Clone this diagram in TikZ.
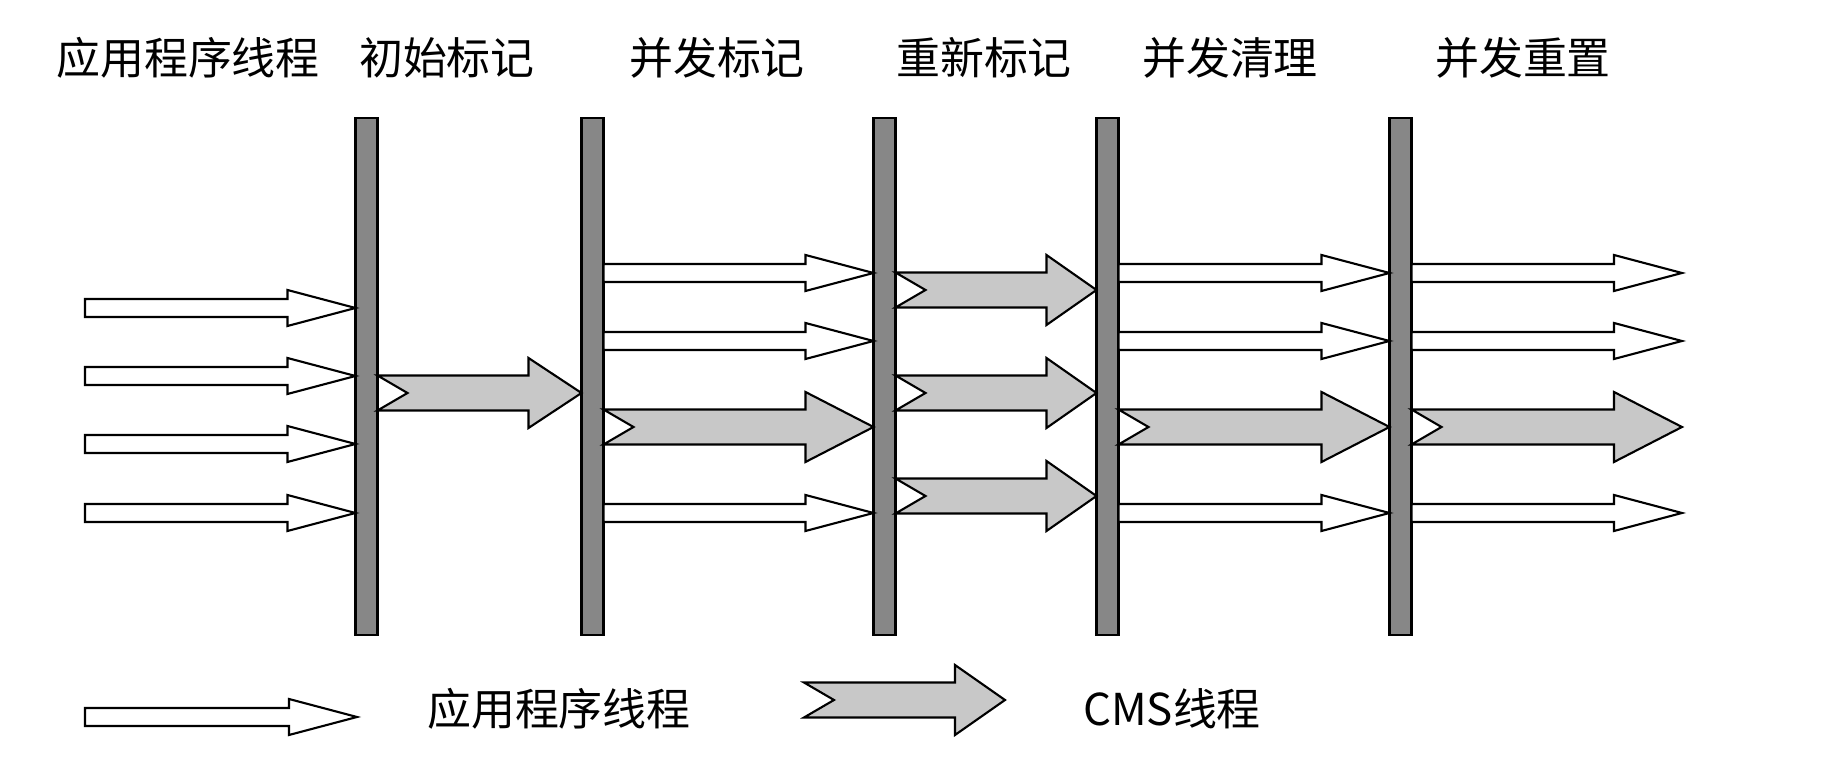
\documentclass[tikz,border=0pt]{standalone}
\usepackage{fontspec}
\setmainfont{Noto Sans CJK SC}
\usetikzlibrary{positioning, calc}

\definecolor{bargray}{RGB}{135,135,135}
\definecolor{cmsgray}{RGB}{200,200,200}

% white application thread arrow: #1 tail, #2 tip
\newcommand{\appthread}[2]{%
  \path (#1) coordinate (s) (#2) coordinate (t);
  \draw[appline] ($(s)+(0,0.09)$) -- ($(t)+(-0.68,0.09)$) -- ($(t)+(-0.68,0.18)$) -- (t)
    -- ($(t)+(-0.68,-0.18)$) -- ($(t)+(-0.68,-0.09)$) -- ($(s)+(0,-0.09)$) -- cycle;
}
% grey CMS thread arrow with notched tail: [#1 head length] #2 tail, #3 tip
\newcommand{\cmsthread}[3][0.68]{%
  \path (#2) coordinate (s) (#3) coordinate (t);
  \draw[cmsline] ($(s)+(0,0.175)$) -- ($(t)+(-#1,0.175)$) -- ($(t)+(-#1,0.35)$) -- (t)
    -- ($(t)+(-#1,-0.35)$) -- ($(t)+(-#1,-0.175)$) -- ($(s)+(0,-0.175)$) -- ($(s)+(0.3,0)$) -- cycle;
}

\begin{document}
\begin{tikzpicture}[
        bar/.style={rectangle, draw=black, fill=bargray, line width=0.6pt, minimum width=0.22cm, minimum height=5.17cm, inner sep=0pt, outer sep=0pt},
        appline/.style={draw=black, fill=white, line width=0.6pt, line join=miter},
        cmsline/.style={draw=black, fill=cmsgray, line width=0.6pt, line join=miter},
        phase/.style={font=\fontsize{12.5}{14}\selectfont, inner sep=0pt}
    ]
        \useasboundingbox (0,0) rectangle (18.46,-7.80);

        % Phase labels
        \node[phase] (P0) at (1.88,-0.58) {应用程序线程};
        \node[phase] (P1) at (4.47,-0.58) {初始标记};
        \node[phase] (P2) at (7.17,-0.58) {并发标记};
        \node[phase] (P3) at (9.84,-0.58) {重新标记};
        \node[phase] (P4) at (12.30,-0.58) {并发清理};
        \node[phase] (P5) at (15.23,-0.58) {并发重置};

        % Phase bars
        \node[bar] (B1) at (3.665,-3.765) {};
        \node[bar] (B2) at (5.925,-3.765) {};
        \node[bar] (B3) at (8.845,-3.765) {};
        \node[bar] (B4) at (11.075,-3.765) {};
        \node[bar] (B5) at (14.005,-3.765) {};

        % Application threads before the initial mark
        \foreach \y in {-3.08,-3.76,-4.44,-5.13}
            \appthread{0.85,\y}{B1.west |- 0,\y};

        % Initial mark
        \cmsthread[0.53]{B1.east |- 0,-3.93}{B2.west |- 0,-3.93}

        % Concurrent mark
        \foreach \y in {-2.73,-3.41,-5.13}
            \appthread{B2.east |- 0,\y}{B3.west |- 0,\y};
        \cmsthread{B2.east |- 0,-4.27}{B3.west |- 0,-4.27}

        % Remark
        \foreach \y in {-2.90,-3.93,-4.96}
            \cmsthread[0.50]{B3.east |- 0,\y}{B4.west |- 0,\y};

        % Concurrent sweep
        \foreach \y in {-2.73,-3.41,-5.13}
            \appthread{B4.east |- 0,\y}{B5.west |- 0,\y};
        \cmsthread{B4.east |- 0,-4.27}{B5.west |- 0,-4.27}

        % Concurrent reset
        \foreach \y in {-2.73,-3.41,-5.13}
            \appthread{B5.east |- 0,\y}{16.82,\y};
        \cmsthread{B5.east |- 0,-4.27}{16.82,-4.27}

        % Legend
        \coordinate (LA1) at (0.85,-7.17);
        \coordinate (LA2) at (3.57,-7.17);
        \appthread{LA1}{LA2}
        \node[phase] (LT1) at (5.59,-7.09) {应用程序线程};
        \coordinate (LC1) at (8.04,-7.00);
        \coordinate (LC2) at (10.05,-7.00);
        \cmsthread[0.50]{LC1}{LC2}
        \node[phase] (LT2) at (11.72,-7.09) {CMS线程};
    \end{tikzpicture}
\end{document}
